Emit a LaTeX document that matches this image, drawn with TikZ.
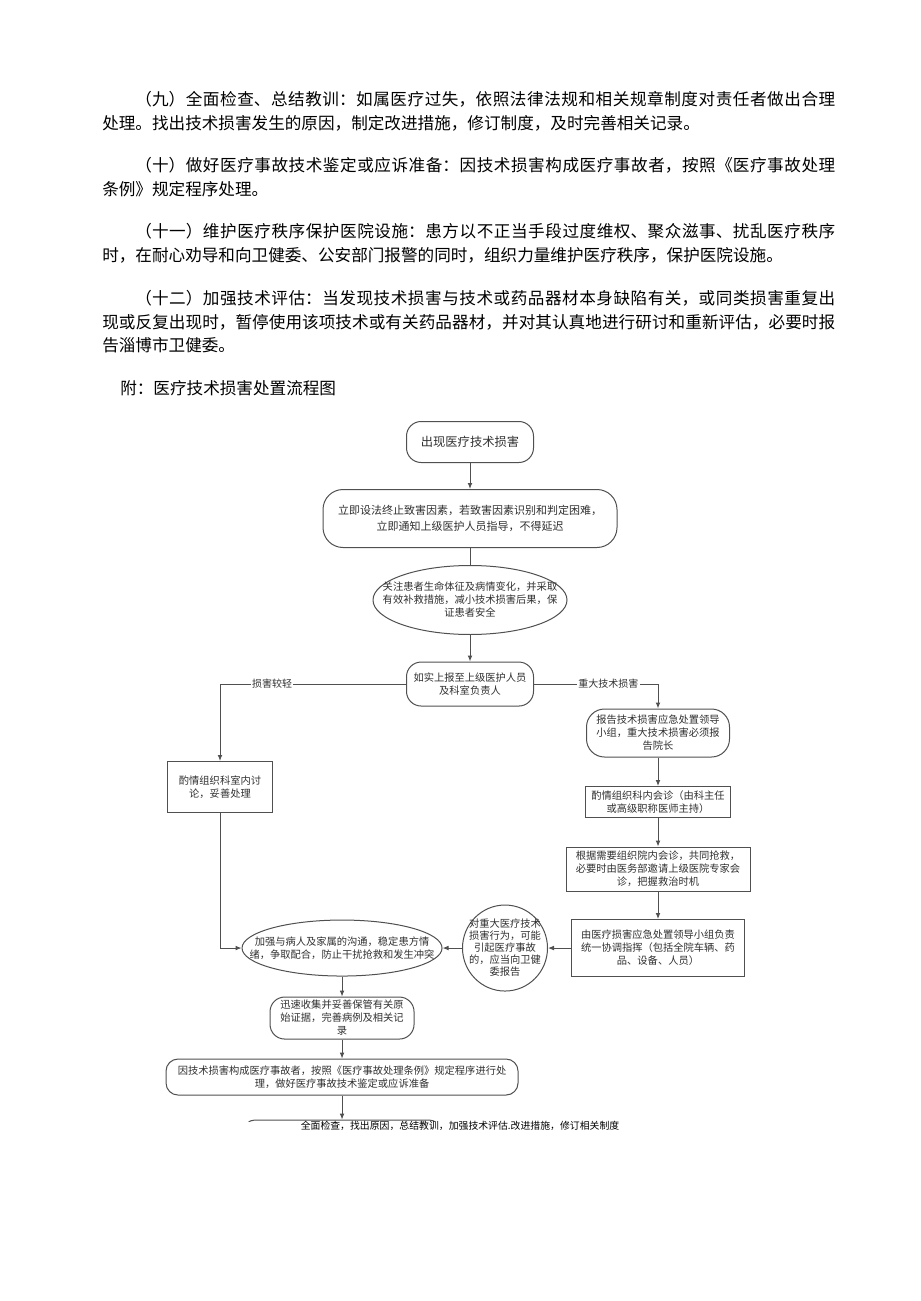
\documentclass[tikz,border=0pt]{standalone}
\usepackage{fontspec}
\setmainfont{Noto Sans CJK SC}
\usetikzlibrary{shapes,arrows.meta,positioning}

\XeTeXlinebreaklocale "zh"
\XeTeXlinebreakskip=0pt plus 1pt

\definecolor{linegray}{HTML}{505050}
\definecolor{textgray}{HTML}{303030}

\newlength{\bodywidth}
\setlength{\bodywidth}{549.75pt}
% one justified line of body text
\newcommand{\fulline}[1]{\parbox{\bodywidth}{\parfillskip=0pt\relax #1}}

\begin{document}
\begin{tikzpicture}[
    x=0.75pt, y=-0.75pt,
    base/.style={
        draw=linegray,
        line width=0.75pt,
        text=textgray,
        align=center,
        inner sep=0pt,
        font=\fontsize{7.7}{9.75}\selectfont
    },
    round/.style={
        base,
        rectangle,
        rounded corners=11pt
    },
    box/.style={
        base,
        rectangle
    },
    oval/.style={
        base,
        ellipse
    },
    inside/.style={
        text=textgray,
        align=center,
        inner sep=0pt,
        font=\fontsize{7.7}{9.75}\selectfont
    },
    arrow/.style={
        -{Latex[length=4.5pt,width=3.6pt]},
        draw=linegray,
        line width=0.75pt
    },
    link/.style={
        draw=linegray,
        line width=0.75pt
    },
    tag/.style={
        fill=white,
        text=textgray,
        inner sep=1pt,
        font=\fontsize{7.5}{9}\selectfont
    },
    bodyline/.style={
        anchor=west,
        inner sep=0pt,
        font=\fontsize{12.45}{17.4}\selectfont
    }
]
\useasboundingbox (0,0) rectangle (920,1301);
\fill[white] (0,0) rectangle (920,1301);

% Body text
\node[bodyline] (p9a) at (102,99) {\fulline{\hspace*{2em}（九）全面检查、总结教训：如属医疗过失，依照法律法规和相关规章制度对责任者做出合理}};
\node[bodyline] (p9b) at (102,123) {处理。找出技术损害发生的原因，制定改进措施，修订制度，及时完善相关记录。};
\node[bodyline] (p10a) at (102,165) {\fulline{\hspace*{2em}（十）做好医疗事故技术鉴定或应诉准备：因技术损害构成医疗事故者，按照《医疗事故处理}};
\node[bodyline] (p10b) at (102,189) {条例》规定程序处理。};
\node[bodyline] (p11a) at (102,231) {\fulline{\hspace*{2em}（十一）维护医疗秩序保护医院设施：患方以不正当手段过度维权、聚众滋事、扰乱医疗秩序}};
\node[bodyline] (p11b) at (102,255.5) {时，在耐心劝导和向卫健委、公安部门报警的同时，组织力量维护医疗秩序，保护医院设施。};
\node[bodyline] (p12a) at (102,298) {\fulline{\hspace*{2em}（十二）加强技术评估：当发现技术损害与技术或药品器材本身缺陷有关，或同类损害重复出}};
\node[bodyline] (p12b) at (102,322) {\fulline{现或反复出现时，暂停使用该项技术或有关药品器材，并对其认真地进行研讨和重新评估，必要时报}};
\node[bodyline] (p12c) at (102,345.5) {告淄博市卫健委。};
\node[bodyline] (attach) at (120,388) {附：医疗技术损害处置流程图};

% Main column
\node[round, minimum width=95.25pt, minimum height=30.75pt, font=\fontsize{9.2}{11}\selectfont] (start) at (470,442) {出现医疗技术损害};
\node[round, rounded corners=15pt, minimum width=220.5pt, minimum height=43.5pt, font=\fontsize{8.25}{12}\selectfont, below=19.5pt of start] (halt) {立即设法终止致害因素，若致害因素识别和判定困难，\\立即通知上级医护人员指导，不得延迟};
\node[oval, minimum width=145.5pt, minimum height=51.75pt, below=12.75pt of halt,
    label={[inside]center:关注患者生命体征及病情变化，并采取\\有效补救措施，减小技术损害后果，保\\证患者安全}] (watch) {};
\node[round, minimum width=95.25pt, minimum height=33pt, below=19.9pt of watch] (report) {如实上报至上级医护人员\\及科室负责人};

% Minor branch
\node[box, minimum width=78.75pt, minimum height=38.25pt] (discuss) at (220,787) {酌情组织科室内讨\\论，妥善处理};

% Major branch
\node[round, rounded corners=13.5pt, minimum width=107.25pt, minimum height=36pt] (notify) at (658,733) {报告技术损害应急处置领导\\小组，重大技术损害必须报\\告院长};
\node[box, minimum width=108.75pt, minimum height=23.25pt, below=21.4pt of notify] (consult) {酌情组织科内会诊（由科主任\\或高级职称医师主持）};
\node[box, minimum width=138pt, minimum height=33pt, below=21.4pt of consult] (rescue) {根据需要组织院内会诊，共同抢救，\\必要时由医务部邀请上级医院专家会\\诊，把握救治时机};
\node[box, minimum width=129.75pt, minimum height=42.75pt, below=20.6pt of rescue] (command) {由医疗损害应急处置领导小组负责\\统一协调指挥（包括全院车辆、药\\品、设备、人员）};
\node[oval, minimum width=63.75pt, minimum height=64.5pt, left=17.25pt of command,
    label={[inside, font=\fontsize{7.7}{9}\selectfont]center:对重大医疗技术\\损害行为，可能\\引起医疗事故\\的，应当向卫健\\委报告}] (alert) {};

% Joint steps
\node[oval, minimum width=150pt, minimum height=42pt, left=14.6pt of alert,
    label={[inside]center:加强与病人及家属的沟通，稳定患方情\\绪，争取配合，防止干扰抢救和发生冲突}] (calm) {};
\node[round, minimum width=108pt, minimum height=31.5pt, below=15pt of calm] (evidence) {迅速收集并妥善保管有关原\\始证据，完善病例及相关记\\录};
\node[round, rounded corners=9pt, minimum width=264pt, minimum height=27pt, below=14.25pt of evidence] (accident) {因技术损害构成医疗事故者，按照《医疗事故处理条例》规定程序进行处\\理，做好医疗事故技术鉴定或应诉准备};
\begin{scope}
\clip (0,0) rectangle (920,1121);
\node[round, rounded corners=8pt, minimum width=147pt, minimum height=30pt, below=18pt of accident] (check) {};
\end{scope}
\node[inside, text=black, font=\fontsize{7.4}{9}\selectfont] (checktext) at (460,1126) {全面检查，找出原因，总结教训，加强技术评估.改进措施，修订相关制度};

% Connections
\draw[arrow] (start) -- (halt);
\draw[link] (halt) -- (watch);
\draw[arrow] (watch) -- (report);
\draw[arrow] (report.west) -| node[tag, pos=0.36] {损害较轻} (discuss.north);
\draw[arrow] (report.east) -| node[tag, pos=0.3] {重大技术损害} (notify.north);
\draw[arrow] (notify) -- (consult);
\draw[arrow] (consult) -- (rescue);
\draw[arrow] (rescue) -- (command);
\draw[arrow] (command) -- (alert);
\draw[arrow] (alert) -- (calm);
\draw[arrow] (discuss.south) |- (calm.west);
\draw[arrow] (calm) -- (evidence);
\draw[arrow] (evidence) -- (accident);
\draw[arrow] (accident) -- (check);

\end{tikzpicture}
\end{document}
